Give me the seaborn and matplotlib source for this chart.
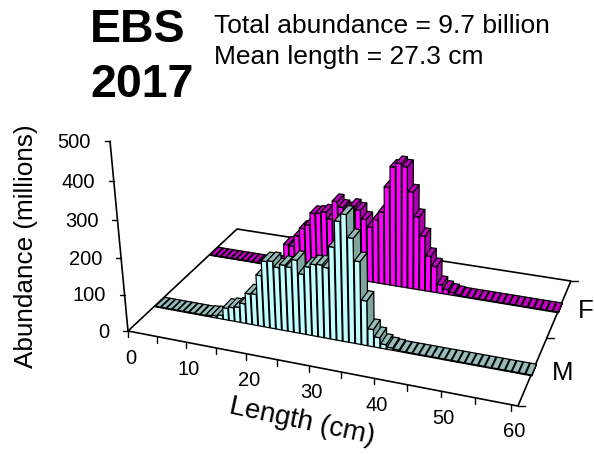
import numpy as np
import pandas as pd
import matplotlib
matplotlib.use("Agg")
import matplotlib.pyplot as plt
from matplotlib.collections import PolyCollection
import seaborn as sns

# abundance (millions) per 1 cm category, 0-60 cm
male = [2, 2, 2, 2, 2, 2, 2, 2, 2, 4, 6, 10, 33, 38, 42, 55, 85, 87, 141, 182, 185,
        171, 180, 177, 199, 164, 186, 195, 197, 192, 249, 318, 338, 280, 222, 121, 47,
        28, 12, 6, 4, 2, 2, 2, 2, 2, 2, 2, 2, 2, 2, 2, 2, 2, 2, 2, 2, 2, 2, 2, 2]
female = [2, 2, 2, 2, 2, 2, 2, 2, 2, 2, 2, 4, 8, 20, 71, 69, 102, 126, 139, 175, 178,
          184, 166, 219, 205, 200, 212, 204, 180, 160, 184, 208, 280, 338, 350, 343, 276,
          209, 157, 102, 75, 25, 14, 8, 4, 2, 2, 2, 2, 2, 2, 2, 2, 2, 2, 2, 2, 2, 2, 2, 2]
x_ticks = [0, 10, 20, 30, 40, 50, 60]
z_ticks = [0, 100, 200, 300, 400, 500]
series_names = ["M", "F"]
series_depth = [0.25, 0.75]
name_dx = [29, 26]

X_MAX = 61
BAND = 0.04
GAP = 0.06
SHIFT = 0.2

sns.set_theme(style="white")
plt.rcParams["font.family"] = ["Liberation Sans", "DejaVu Sans"]
plt.rcParams["text.color"] = "black"

m_colors = sns.color_palette(["#C4FFFF", "#96BDB8", "#80A5A0"])
f_colors = sns.color_palette(["#FF00FF", "#C000C0", "#A800A8"])


# perspective of the excel 3d chart: floor is a homography, z goes to a vanishing point
def project(x, depth, z):
    u = np.asarray(x, dtype=float) / X_MAX
    k = -1.24e-4 * np.asarray(z, dtype=float)
    w = 1 - 0.1072 * u + 0.1847 * depth + k
    px = 128 + 334.4 * u + 152.8 * depth + k * 400
    py = 331 + 31.5 * u - 59.7 * depth + k * 3200
    return px / w, py / w


def quad(points):
    return [project(*p) for p in points]


def draw_series(ax, values, depth, colors):
    for i, val in enumerate(values):
        x0, x1 = i + GAP + SHIFT, i + 1 - GAP + SHIFT
        d0, d1 = depth - BAND, depth + BAND
        front = quad([(x0, d0, 0), (x1, d0, 0), (x1, d0, val), (x0, d0, val)])
        side = quad([(x1, d0, 0), (x1, d1, 0), (x1, d1, val), (x1, d0, val)])
        top = quad([(x0, d0, val), (x1, d0, val), (x1, d1, val), (x0, d1, val)])
        pc = PolyCollection([side, front, top], facecolors=[colors[2], colors[0], colors[1]],
                            edgecolors="black", linewidths=0.9, joinstyle="round", zorder=3)
        ax.add_collection(pc)


df = pd.DataFrame({"length": np.arange(X_MAX), "M": male, "F": female})

fig = plt.figure(figsize=(5.94, 4.54), dpi=100)
ax = fig.add_axes([0, 0, 1, 1])
ax.set_xlim(0, 594)
ax.set_ylim(454, 0)
ax.axis("off")

# floor outline and vertical axis
fx, fy = project([0, X_MAX, X_MAX, 0, 0], np.array([0, 0, 1, 1, 0]), 0)
sns.lineplot(x=fx, y=fy, sort=False, estimator=None, color="black", lw=1.2, ax=ax, zorder=2)
zx, zy = project([0, 0], 0, [0, 500])
sns.lineplot(x=zx, y=zy, sort=False, estimator=None, color="black", lw=1.2, ax=ax, zorder=2)

draw_series(ax, df["F"], series_depth[1], f_colors)
draw_series(ax, df["M"], series_depth[0], m_colors)

# ticks
for t in z_ticks:
    px, py = project(0, 0, t)
    ax.plot([px - 5, px], [py, py], color="black", lw=1.0)
    ax.text(px - 19, py + 1, str(t), ha="right", va="center", fontsize=14.5)
for t in range(0, 61, 5):
    px, py = project(t, 0, 0)
    ax.plot([px, px], [py, py + 6], color="black", lw=1.0)
for t in x_ticks:
    px, py = project(t, 0, 0)
    ax.text(px + 3, py + 27, str(t), ha="center", va="center", fontsize=14.5)
for d in [0, 0.5, 1]:
    px, py = project(X_MAX, d, 0)
    ax.plot([px, px + 7], [py, py], color="black", lw=1.0)
for name, d, dx in zip(series_names, series_depth, name_dx):
    px, py = project(X_MAX, d, 0)
    ax.text(px + dx, py + 3, name, ha="center", va="center", fontsize=18.5)

ax.text(26, 246, "Abundance (millions)", rotation=90, ha="center", va="center", fontsize=18.8)
ax.text(302, 422, "Length (cm)", rotation=-12, ha="center", va="center", fontsize=20)
ax.text(90, 30, "EBS", ha="left", va="center", fontsize=33.5, fontweight="bold")
ax.text(90, 85, "2017", ha="left", va="center", fontsize=33.5, fontweight="bold")
ax.text(214, 26, "Total abundance = 9.7 billion", ha="left", va="center", fontsize=19)
ax.text(214, 57, "Mean length = 27.3 cm", ha="left", va="center", fontsize=19)

fig.savefig("out.png", dpi=100)
